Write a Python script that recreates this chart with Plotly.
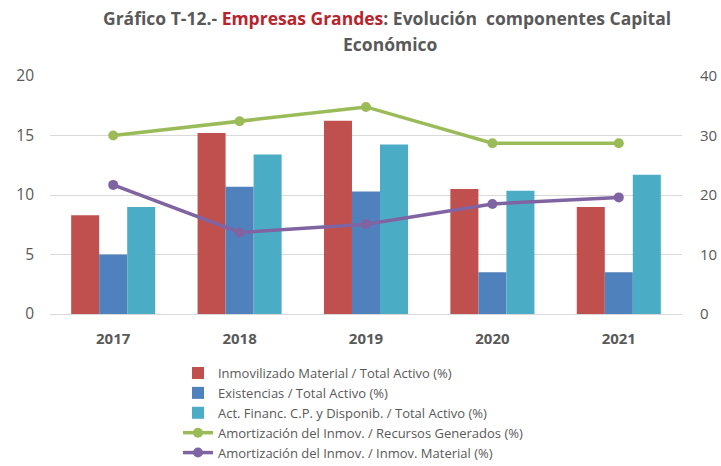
import plotly.graph_objects as go

years = ["2017", "2018", "2019", "2020", "2021"]
inmov_material = [8.3, 15.2, 16.25, 10.5, 9.0]
existencias = [5.0, 10.7, 10.3, 3.5, 3.5]
act_financ = [9.0, 13.4, 14.25, 10.35, 11.7]
amort_recursos = [30.0, 32.4, 34.8, 28.7, 28.7]
amort_inmov = [21.7, 13.7, 15.1, 18.5, 19.6]

names = [
    "Inmovilizado Material / Total Activo (%)",
    "Existencias / Total Activo (%)",
    "Act. Financ. C.P. y Disponib. / Total Activo (%)",
    "Amortización del Inmov. / Recursos Generados (%)",
    "Amortización del Inmov. / Inmov. Material (%)",
]
colors = ["#C0504D", "#4F81BD", "#4BACC6", "#9BBB59", "#8064A2"]

fig = go.Figure()
for vals, nm, c in zip([inmov_material, existencias, act_financ], names[:3], colors[:3]):
    fig.add_trace(go.Bar(x=years, y=vals, name=nm, marker=dict(color=c, line=dict(width=0))))
for vals, nm, c in zip([amort_recursos, amort_inmov], names[3:], colors[3:]):
    fig.add_trace(go.Scatter(x=years, y=vals, name=nm, yaxis="y2", mode="lines+markers",
                             line=dict(color=c, width=3.5), marker=dict(color=c, size=10)))

gray = "#595959"
font_fam = "Open Sans, sans-serif"
fig.update_layout(
    width=721, height=466,
    margin=dict(l=50, r=39, t=76, b=152, autoexpand=False),
    paper_bgcolor="white", plot_bgcolor="white",
    font=dict(family=font_fam, color=gray),
    barmode="group", bargap=0.335, bargroupgap=0,
    xaxis=dict(showgrid=False, showline=False, ticks="",
               tickfont=dict(size=15, color=gray, weight="bold"), ticklabelstandoff=14),
    yaxis=dict(range=[0, 20], tickvals=[0, 5, 10, 15, 20], showgrid=True, gridcolor="#D9D9D9",
               gridwidth=1.2, zeroline=True, zerolinecolor="#D9D9D9", zerolinewidth=1.2,
               showline=False, tickfont=dict(size=15.5, color=gray), ticks="",
               ticklabelstandoff=15),
    yaxis2=dict(range=[0, 40], tickvals=[0, 10, 20, 30, 40], overlaying="y", side="right",
                showgrid=False, zeroline=False, showline=False,
                tickfont=dict(size=15, color=gray), ticklabelstandoff=17),
    legend=dict(x=0.2025, y=-0.185, xanchor="left", yanchor="top", orientation="v",
                font=dict(size=13, color=gray), tracegroupgap=0, itemwidth=30,
                bgcolor="rgba(0,0,0,0)"),
    annotations=[
        dict(text="Gráfico T-12.- <span style='color:#B8242C'>Empresas Grandes</span>: Evolución  componentes Capital",
             xref="paper", yref="paper", x=0.534, y=1.2437, xanchor="center", yanchor="middle",
             showarrow=False, font=dict(size=17.5, color=gray, family=font_fam, weight="bold")),
        dict(text="Económico",
             xref="paper", yref="paper", x=0.538, y=1.134, xanchor="center", yanchor="middle",
             showarrow=False, font=dict(size=17.5, color=gray, family=font_fam, weight="bold")),
    ],
)

fig.write_html("out.html", config={"displayModeBar": False},
               post_script="document.body.style.margin='0';document.body.style.overflow='hidden';")
